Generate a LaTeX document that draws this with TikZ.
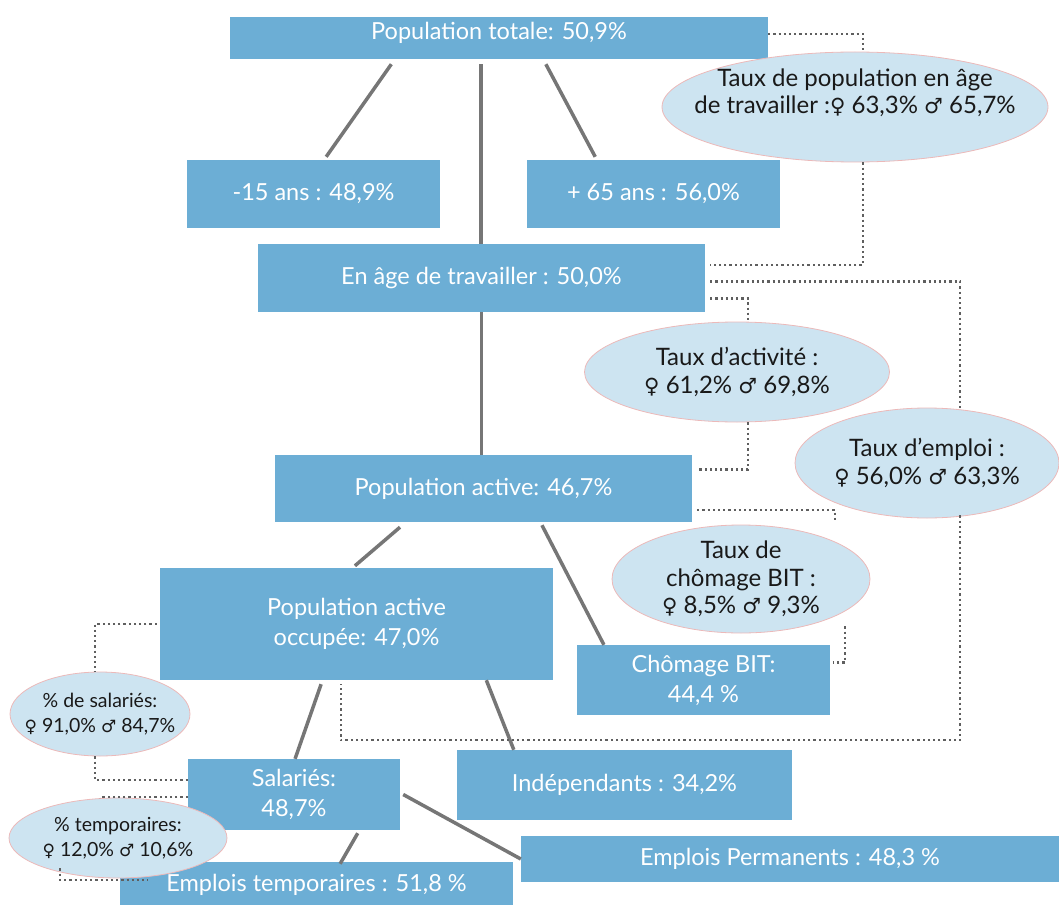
\documentclass[tikz,border=0pt]{standalone}
\usepackage{fontspec}
\setmainfont{Lato}
\newfontfamily\symfont{DejaVu Sans}
\usetikzlibrary{shapes.geometric,calc}
\definecolor{boxblue}{RGB}{108,174,213}
\definecolor{ellfill}{RGB}{205,228,241}
\definecolor{ellline}{RGB}{236,185,185}
\definecolor{linegray}{RGB}{118,118,118}
\definecolor{dotgray}{RGB}{95,95,95}
\newcommand{\Fsym}{{\symfont\fontsize{21}{21}\selectfont ♀}}
\newcommand{\Msym}{{\symfont\fontsize{21}{21}\selectfont ♂}}
\newcommand{\Fsm}{{\symfont\fontsize{17}{17}\selectfont ♀}}
\newcommand{\Msm}{{\symfont\fontsize{17}{17}\selectfont ♂}}
\begin{document}
\begin{tikzpicture}[x=1pt,y=-1pt,
 box/.style={fill=boxblue,text=white,inner sep=0pt,align=center,font=\fontsize{23.5}{30}\selectfont},
 bub/.style={ellipse,fill=ellfill,draw=ellline,line width=0.8pt,inner xsep=-80pt,inner ysep=-40pt,align=center,text=black!90,font=\fontsize{24}{27.5}\selectfont},
 smallbub/.style={bub,font=\fontsize{19.5}{25}\selectfont},
 conn/.style={draw=linegray,line width=3.5pt},
 dots/.style={draw=dotgray,line width=2.4pt,dash pattern=on 2.2pt off 3pt}]
\useasboundingbox (0,0) rectangle (1059,904);
% boxes
\node[box,minimum width=538pt,minimum height=42pt,text depth=15pt] (pt) at (499,38) {Population totale: 50,9\%};
\node[box,minimum width=253pt,minimum height=68pt] (m15) at (313.5,194) {-15 ans : 48,9\%};
\node[box,minimum width=253pt,minimum height=68pt] (p65) at (653.5,194) {+ 65 ans : 56,0\%};
\node[box,minimum width=447pt,minimum height=68pt] (ea) at (481.5,278) {En âge de travailler : 50,0\%};
\node[box,minimum width=417pt,minimum height=67pt] (pa) at (483.5,488.5) {Population active: 46,7\%};
\node[box,minimum width=393pt,minimum height=112pt] (pao) at (356.5,624) {Population active\\occupée: 47,0\%};
\node[box,minimum width=253pt,minimum height=70pt] (chb) at (703.5,680) {Chômage BIT:\\44,4 \%};
\node[box,minimum width=212pt,minimum height=71pt] (sal) at (294,794.5) {Salariés:\\48,7\%};
\node[box,minimum width=335pt,minimum height=70pt] (ind) at (624.5,785) {Indépendants : 34,2\%};
\node[box,minimum width=538pt,minimum height=46pt] (ep) at (790,859) {Emplois Permanents : 48,3 \%};
\node[box,minimum width=393pt,minimum height=46pt] (et) at (316.5,885) {Emplois temporaires : 51,8 \%};
% ellipses
\node[bub,minimum width=386pt,minimum height=110pt,text depth=32pt] (tp) at (855,107) {Taux de population en âge\\de travailler :\Fsym\ 63,3\% \Msym\ 65,7\%};
\node[bub,minimum width=305pt,minimum height=100pt] (act) at (737,372) {Taux d’activité :\\\Fsym\ 61,2\% \Msym\ 69,8\%};
\node[bub,minimum width=264pt,minimum height=110pt] (emp) at (927,463) {Taux d’emploi :\\\Fsym\ 56,0\% \Msym\ 63,3\%};
\node[bub,minimum width=258pt,minimum height=108pt] (cho) at (741,579) {Taux de\\chômage BIT :\\\Fsym\ 8,5\% \Msym\ 9,3\%};
\node[smallbub,minimum width=180pt,minimum height=84pt] (psal) at (100,714) {\% de salariés:\\\Fsm\ 91,0\% \Msm\ 84,7\%};
\node[smallbub,minimum width=218pt,minimum height=80pt] (ptemp) at (118,838) {\% temporaires:\\\Fsm\ 12,0\% \Msm\ 10,6\%};
% solid connectors
\draw[conn] ($(pt.south west)!0.30!(pt.south east)+(0,5)$) -- ($(m15.north west)!0.55!(m15.north east)+(0,-3)$);
\draw[conn] ($(pt.south west)!0.467!(pt.south east)+(0,5)$) coordinate (v1) -- (v1 |- ea.north);
\draw[conn] ($(pt.south west)!0.587!(pt.south east)+(0,5)$) -- ($(p65.north west)!0.27!(p65.north east)+(0,-3)$);
\draw[conn] ($(ea.south west)!0.50!(ea.south east)$) coordinate (v2) -- (v2 |- pa.north);
\draw[conn] ($(pa.south west)!0.30!(pa.south east)+(0,5)$) -- ($(pao.north west)!0.496!(pao.north east)+(0,-2)$);
\draw[conn] ($(pa.south west)!0.64!(pa.south east)+(0,3)$) -- ($(chb.north west)!0.107!(chb.north east)$);
\draw[conn] ($(pao.south west)!0.41!(pao.south east)+(0,4)$) -- ($(sal.north west)!0.505!(sal.north east)$);
\draw[conn] ($(pao.south west)!0.83!(pao.south east)$) -- ($(ind.north west)!0.17!(ind.north east)$);
\draw[conn] ($(sal.east)+(3,0)$) -- (ep.west);
\draw[conn] ($(sal.south west)!0.80!(sal.south east)+(0,3)$) -- ($(et.north west)!0.56!(et.north east)+(0,2)$);
% dotted connectors
\draw[dots] ($(pt.north east)!0.40!(pt.south east)$) -| ($(tp.north)+(8,0)$);
\draw[dots] ($(tp.south)+(8,0)$) |- ($(ea.north east)!0.31!(ea.south east)+(5,0)$);
\draw[dots] ($(ea.north east)!0.55!(ea.south east)+(5,0)$) -| ($(emp.north)+(33,3)$);
\draw[dots] ($(emp.south)+(33,-3)$) |- ($(pao.south west)!0.46!(pao.south east)+(0,60)$) -- ($(pao.south west)!0.46!(pao.south east)+(0,4)$);
\draw[dots] ($(ea.north east)!0.80!(ea.south east)+(5,0)$) -| ($(act.north)+(11,0)$);
\draw[dots] ($(act.south)+(11,0)$) |- ($(pa.north east)!0.22!(pa.south east)+(5,0)$);
\draw[dots] ($(pa.north east)!0.82!(pa.south east)+(5,0)$) -| ($(cho.north)+(94,-3)$);
\draw[dots] ($(cho.south)+(104,-7)$) |- ($(chb.north east)!0.25!(chb.south east)+(3,0)$);
\draw[dots] ($(pao.west)+(-3,0)$) -| ($(psal.north)+(-5,0)$);
\draw[dots] ($(psal.south)+(-5,0)$) |- ($(sal.north west)!0.30!(sal.south west)$);
\draw[dots] ($(sal.north west)!0.535!(sal.south west)$) -| ($(ptemp.north)+(-18,0)$);
\draw[dots] ($(ptemp.south)+(-58,-10)$) |- ($(et.north west)!0.39!(et.south west)+(28,0)$);
\end{tikzpicture}
\end{document}
